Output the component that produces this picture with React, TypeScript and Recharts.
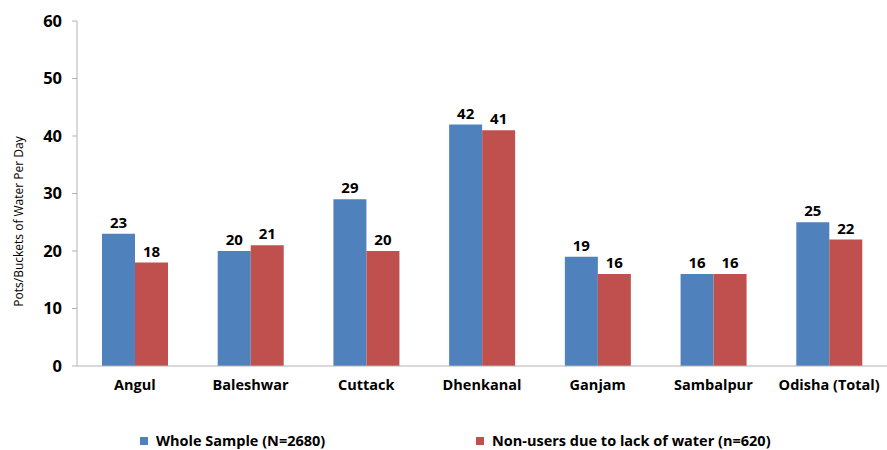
import { BarChart, Bar, XAxis, YAxis, LabelList, Legend } from 'recharts';

const DISTRICTS = ['Angul', 'Baleshwar', 'Cuttack', 'Dhenkanal', 'Ganjam', 'Sambalpur', 'Odisha (Total)'];
const WHOLE_SAMPLE = [23, 20, 29, 42, 19, 16, 25];
const NON_USERS = [18, 21, 20, 41, 16, 16, 22];
const Y_TICKS = [0, 10, 20, 30, 40, 50, 60];
const BOUNDARY_TICKS = [0, 1, 2, 3, 4, 5, 6, 7];

const BLUE = '#4f81bd';
const RED = '#c0504d';
const AXIS = '#b3b3b3';
const FONT = '"Open Sans", "Liberation Sans", sans-serif';

const data = DISTRICTS.map((name, i) => ({ name, whole: WHOLE_SAMPLE[i], nonUsers: NON_USERS[i] }));

const LegendBox = () => (
  <div style={{ position: 'relative', height: 24, fontFamily: FONT, fontWeight: 700, fontSize: 14.5, lineHeight: '16px', color: '#000' }}>
    <div style={{ position: 'absolute', left: 140, top: 7, display: 'flex', alignItems: 'center', whiteSpace: 'nowrap' }}>
      <span style={{ width: 8, height: 8, background: BLUE, marginRight: 8 }} />
      Whole Sample (N=2680)
    </div>
    <div style={{ position: 'absolute', left: 476, top: 7, display: 'flex', alignItems: 'center', whiteSpace: 'nowrap' }}>
      <span style={{ width: 8, height: 8, background: RED, marginRight: 8 }} />
      Non-users due to lack of water (n=620)
    </div>
  </div>
);

const AxisTitle = (props: any) => {
  const { viewBox } = props;
  const x = viewBox.x + 18;
  const y = viewBox.y + viewBox.height / 2 + 28;
  return (
    <text x={x} y={y} transform={`rotate(-90, ${x}, ${y})`} textAnchor="middle" dominantBaseline="central"
      fontFamily={FONT} fontSize={12} fill="#000">
      Pots/Buckets of Water Per Day
    </text>
  );
};

export default function App() {
  return (
    <div style={{ position: 'absolute', left: 0, top: 0, background: '#fff' }}>
      <BarChart width={887} height={450} data={data} margin={{ top: 21, right: 0, left: 0, bottom: 0 }} barGap={0}>
        <XAxis xAxisId="grid" type="number" domain={[0, 7]} ticks={BOUNDARY_TICKS} height={0}
          axisLine={false} tick={false} tickLine={{ stroke: AXIS }} tickSize={5} />
        <XAxis xAxisId="cat" dataKey="name" height={60} axisLine={{ stroke: AXIS }} tickLine={false}
          tick={{ fontFamily: FONT, fontWeight: 700, fontSize: 14.5, fill: '#000' }} tickMargin={8} />
        <YAxis width={77} domain={[0, 60]} ticks={Y_TICKS} axisLine={{ stroke: AXIS }}
          tickLine={{ stroke: AXIS }} tickSize={5} tickMargin={10}
          tick={{ fontFamily: FONT, fontWeight: 700, fontSize: 16.5, fill: '#000' }}
          label={<AxisTitle />} />
        <Legend verticalAlign="bottom" height={24} content={() => <LegendBox />} />
        <Bar xAxisId="cat" dataKey="whole" fill={BLUE} barSize={33} isAnimationActive={false}>
          <LabelList dataKey="whole" position="top" offset={6} fontFamily={FONT} fontWeight={700} fontSize={15} fill="#000" />
        </Bar>
        <Bar xAxisId="cat" dataKey="nonUsers" fill={RED} barSize={33} isAnimationActive={false}>
          <LabelList dataKey="nonUsers" position="top" offset={6} fontFamily={FONT} fontWeight={700} fontSize={15} fill="#000" />
        </Bar>
      </BarChart>
    </div>
  );
}
